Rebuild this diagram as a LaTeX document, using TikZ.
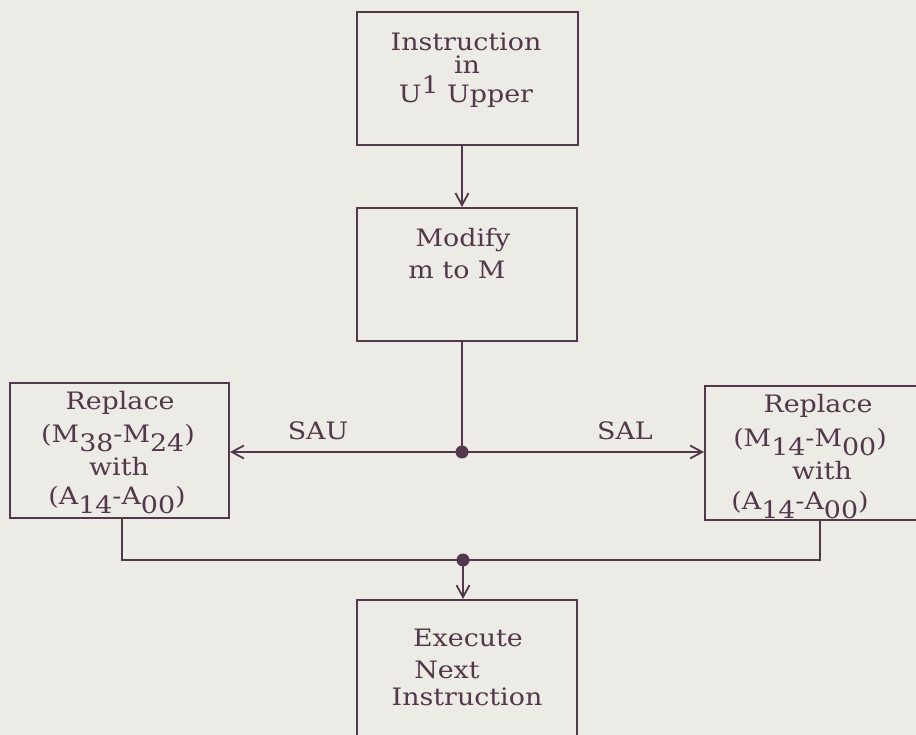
\documentclass[tikz,border=0pt]{standalone}
\usepackage{fontspec}
\newfontfamily\typefont[FakeStretch=1.12]{DejaVu Serif}
\usetikzlibrary{arrows.meta}
\definecolor{paper}{HTML}{ECEBE6}
\definecolor{ink}{HTML}{52384A}
\newcommand{\lo}[1]{\raisebox{-9pt}{#1}}
\newcommand{\hi}[1]{\raisebox{9pt}{#1}}
\begin{document}
\begin{tikzpicture}[x=1pt,y=-1pt,
  box/.style={draw=ink, line width=2pt, rectangle, inner sep=0pt},
  txt/.style={text=ink, font=\typefont\fontsize{24}{27}\selectfont, inner sep=0pt, align=center},
  conn/.style={draw=ink, line width=2pt},
  arr/.style={conn, -{Straight Barb[length=12pt,width=13pt,line width=1.8pt]}},
  dot/.style={fill=ink}
]
% paper and frame
\fill[paper] (0,0) rectangle (916,735);
\useasboundingbox (0,0) rectangle (916,735);
\clip (0,0) rectangle (916,735);

% boxes
\node[box, minimum width=221pt, minimum height=133pt] (top)  at (467.5,78.5) {};
\node[box, minimum width=220pt, minimum height=133pt] (mod)  at (467,274.5) {};
\node[box, minimum width=219pt, minimum height=135pt] (left) at (119.5,450.5) {};
\node[box, minimum width=235pt, minimum height=134pt] (right) at (822.5,453) {};
\node[box, minimum width=220pt, minimum height=160pt] (exec) at (467,680) {};

% box texts
\node[txt] (t1) at (466,42) {Instruction};
\node[txt] (t2) at (467,65) {in};
\node[txt] (t3) at (466,92) {U\hi{1} Upper};
\node[txt] (m1) at (463,240) {Modify};
\node[txt] (m2) at (457,270) {m to M};

\node[txt] (l1) at (120,403) {Replace};
\node[txt] (l2) at (118,438) {(M\lo{38}-M\lo{24})};
\node[txt] (l3) at (119,467) {with};
\node[txt] (l4) at (117,500) {(A\lo{14}-A\lo{00})};

\node[txt] (r1) at (818,406) {Replace};
\node[txt] (r2) at (810,442) {(M\lo{14}-M\lo{00})};
\node[txt] (r3) at (822,471) {with};
\node[txt] (r4) at (800,505) {(A\lo{14}-A\lo{00})};

\node[txt] (e1) at (468,638) {Execute};
\node[txt] (e2) at (447,670) {Next};
\node[txt] (e3) at (467,697) {Instruction};

% junctions and drops
\coordinate (dot1) at (462,452);
\coordinate (dot2) at (463,560);
\coordinate (ldrop) at (122,0);
\coordinate (rdrop) at (820,0);

% connectors
\draw[arr] (dot1 |- top.south) -- (dot1 |- mod.north);
\draw[conn] (dot1 |- mod.south) -- (dot1);
\draw[arr] (dot1) -- (dot1 -| left.east);
\draw[arr] (dot1) -- (dot1 -| right.west);
\draw[conn] (left.south -| ldrop) -- (ldrop |- dot2) -- (rdrop |- dot2) -- (right.south -| rdrop);
\draw[arr] (dot2) -- (dot2 |- exec.north);
\fill[dot] (dot1) circle (6.5);
\fill[dot] (dot2) circle (6.5);

% branch labels
\node[txt] (sau) at (318,431) {SAU};
\node[txt] (sal) at (625,431) {SAL};
\end{tikzpicture}
\end{document}
